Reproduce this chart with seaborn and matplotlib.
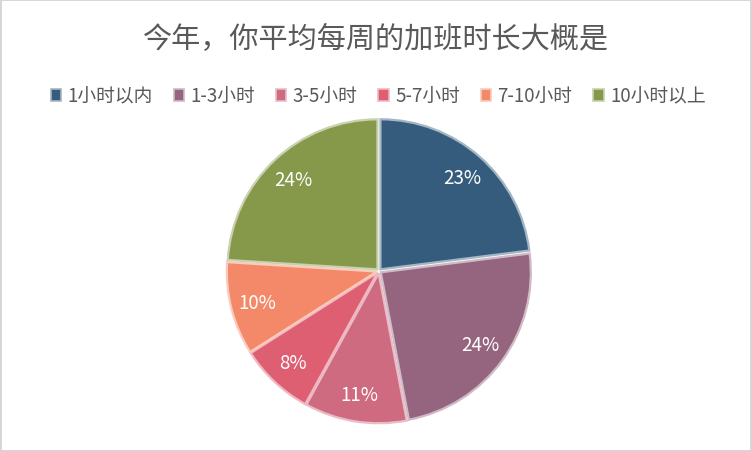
import matplotlib
matplotlib.use("Agg")
import matplotlib.pyplot as plt
import matplotlib.colors as mcolors
import seaborn as sns
import numpy as np

# data
categories = ['1小时以内', '1-3小时', '3-5小时', '5-7小时', '7-10小时', '10小时以上']
shares = [23, 24, 11, 8, 10, 24]
colors = ['#355C7D', '#95657F', '#CE6B80', '#DE5F72', '#F4896A', '#86984A']

sns.set_theme(style="white")
plt.rcParams['font.family'] = ['Noto Sans CJK SC', 'DejaVu Sans']


def tint(c, k=0.55):
    rgb = np.array(mcolors.to_rgb(c))
    return tuple(rgb + (1 - rgb) * k)


fig = plt.figure(figsize=(7.52, 4.52), dpi=100)
fig.patch.set_facecolor('white')

# light border round the figure
fig.add_artist(plt.Rectangle((0.001, 0.001), 0.998, 0.997, transform=fig.transFigure,
                             fill=False, edgecolor='#D0D0D0', linewidth=1.2))

cx, cy, r = 379, 452 - 272, 153
ax = fig.add_axes([(cx - r) / 752, (cy - r) / 452, 2 * r / 752, 2 * r / 452])

wedges, texts, autotexts = ax.pie(
    shares, colors=colors, startangle=90, counterclock=False,
    explode=[0.015] * len(shares), autopct='%d%%', pctdistance=0.82,
    textprops=dict(color='white', fontsize=13.5),
    wedgeprops=dict(linewidth=1.6))

for w, c in zip(wedges, colors):
    w.set_edgecolor(tint(c))

ax.set_xlim(-1.02, 1.02)
ax.set_ylim(-1.02, 1.02)
ax.set_aspect('equal')
ax.axis('off')

fig.text(0.5, 0.912, '今年，你平均每周的加班时长大概是', ha='center', va='center',
         fontsize=21, color='#595959')

handles = [plt.Rectangle((0, 0), 1, 1, facecolor=c, edgecolor=tint(c), linewidth=1.2)
           for c in colors]
fig.legend(handles, categories, loc='center', bbox_to_anchor=(0.503, 0.785), ncol=6,
           frameon=False, fontsize=13.5, handlelength=0.55, handleheight=0.55,
           handletextpad=0.35, columnspacing=1.1, labelcolor='#595959')

fig.savefig('out.png', dpi=100)
